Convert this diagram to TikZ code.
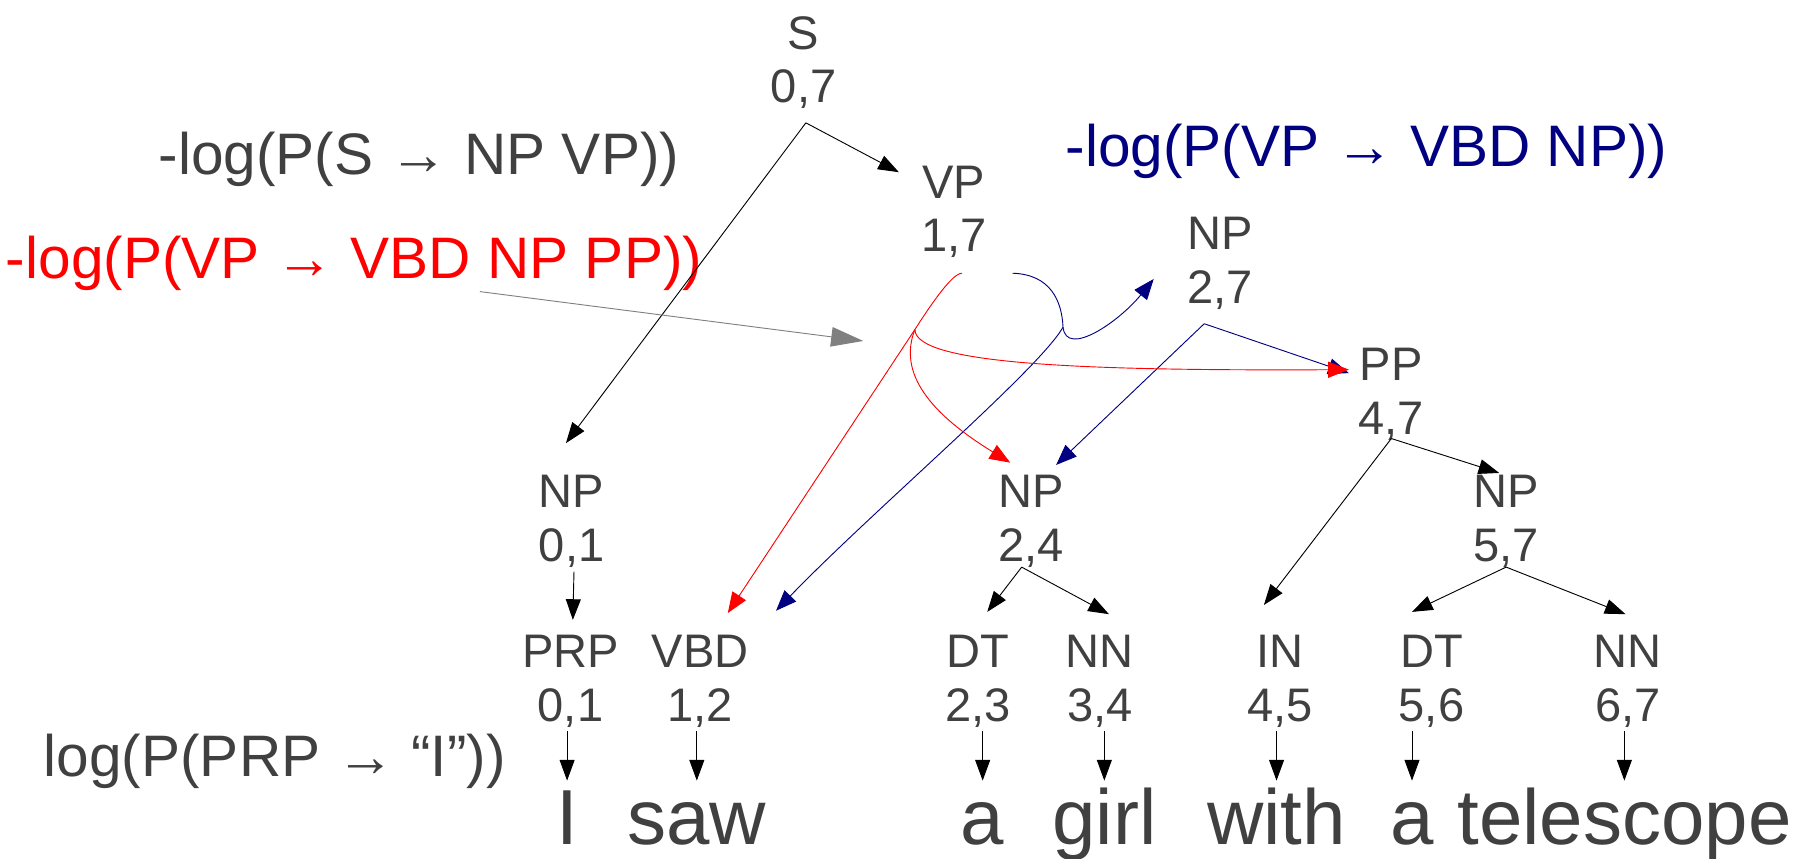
\documentclass[tikz,border=0pt]{standalone}
\usepackage{fontspec}
\setmainfont{Liberation Sans}
\usetikzlibrary{arrows.meta,calc}
\definecolor{txt}{HTML}{404040}
\definecolor{navy}{HTML}{000080}
\definecolor{grayarr}{HTML}{808080}
\begin{document}
\begin{tikzpicture}[x=1pt,y=-1pt,
  tn/.style={font=\fontsize{41}{47}\selectfont, text=txt, align=center, inner sep=0pt},
  word/.style={font=\fontsize{68}{80}\selectfont, text=txt, anchor=base, inner sep=0pt},
  lbl/.style={font=\fontsize{51}{60}\selectfont, anchor=base west, inner sep=0pt},
  arr/.style={-{Triangle[length=18pt,width=13pt]}, line width=0.8pt, black},
  redarr/.style={-{Triangle[length=18pt,width=14pt]}, line width=0.8pt, red},
  navyarr/.style={-{Triangle[length=18pt,width=14pt]}, line width=0.8pt, navy},
  grayarrow/.style={-{Triangle[length=28pt,width=17pt]}, line width=0.8pt, grayarr}]
\useasboundingbox (0,0) rectangle (1568,748);

% tree nodes
\node[tn] (S)    at (700,54.5)  {S\\0,7};
\node[tn] (VP)   at (831,184.5) {VP\\1,7};
\node[tn] (NPb)  at (1063,229.5){NP\\2,7};
\node[tn] (PP)   at (1212,343.5){PP\\4,7};
\node[tn] (NPa)  at (498,454.5) {NP\\0,1};
\node[tn] (NPc)  at (898,454.5) {NP\\2,4};
\node[tn] (NPd)  at (1312,454.5){NP\\5,7};
\node[tn] (PRP)  at (497,593.5) {PRP\\0,1};
\node[tn] (VBD)  at (610,593.5) {VBD\\1,2};
\node[tn] (DTa)  at (852,593.5) {DT\\2,3};
\node[tn] (NNa)  at (958,593.5) {NN\\3,4};
\node[tn] (IN)   at (1115,593.5){IN\\4,5};
\node[tn] (DTb)  at (1247,593.5){DT\\5,6};
\node[tn] (NNb)  at (1418,593.5){NN\\6,7};

% words
\node[word] (wI)    at (494,736)  {I};
\node[word] (wsaw)  at (607,736)  {saw};
\node[word] (wa)    at (856,736)  {a};
\node[word] (wgirl) at (962,736)  {girl};
\node[word] (wwith) at (1112,736) {with};
\node[word] (wa2)   at (1230,736) {a};
\node[word] (wtel)  at (1415,736) {telescope};

% labels
\node[lbl,text=txt]  (l1) at (138,152) {-log(P(S → NP VP))};
\node[lbl,text=red]  (l2) at (5,243)   {-log(P(VP → VBD NP PP))};
\node[lbl,text=navy] (l3) at (928,145) {-log(P(VP → VBD NP))};
\node[lbl,text=txt]  (l4) at (38,676)  {log(P(PRP → “I”))};

% black tree arrows
\draw[arr] ([shift={(2,52.5)}]S.center) -- ([shift={(-5,-68.5)}]NPa.center);
\draw[arr] ([shift={(2,52.5)}]S.center) -- ([shift={(-48,-34.5)}]VP.center);
\draw[arr] ([shift={(2,43.5)}]NPa.center) -- ([shift={(2,-53.5)}]PRP.center);
\draw[arr] ([shift={(-8,39.5)}]NPc.center) -- ([shift={(8,-60.5)}]DTa.center);
\draw[arr] ([shift={(-8,39.5)}]NPc.center) -- ([shift={(8,-58.5)}]NNa.center);
\draw[arr] ([shift={(0,38.5)}]PP.center) -- ([shift={(-14,-66.5)}]IN.center);
\draw[arr] ([shift={(0,38.5)}]PP.center) -- ([shift={(-6,-42.5)}]NPd.center);
\draw[arr] ([shift={(0,39.5)}]NPd.center) -- ([shift={(-17,-60.5)}]DTb.center);
\draw[arr] ([shift={(0,39.5)}]NPd.center) -- ([shift={(-2,-58.5)}]NNb.center);

% leaf to word arrows
\foreach \l/\w in {PRP/wI, VBD/wsaw, DTa/wa, NNa/wgirl, IN/wwith, DTb/wa2, NNb/wtel}{
  \draw[arr] ($(\w.base |- \l.center)+(0,43.5)$) -- ($(\w.base)+(0,-56)$);
}

% navy rule VP -> VBD NP
\draw[navyarr] ([shift={(-14,52.5)}]NPb.center) -- ([shift={(22,-49.5)}]NPc.center);
\draw[navyarr] ([shift={(-14,52.5)}]NPb.center) -- ([shift={(-37,-18.5)}]PP.center);
\draw[navy, line width=0.8pt] ([shift={(51,53.5)}]VP.center) .. controls (915,239) and (925,262) .. (926,285) coordinate (NJ);
\draw[navyarr] (NJ) .. controls (929,312) and (975,280) .. ([shift={(-58,13.5)}]NPb.center);
\draw[navyarr] (NJ) .. controls (905,322) and (760,445) .. ([shift={(66,-61.5)}]VBD.center);

% red rule VP -> VBD NP PP
\draw[red, line width=0.8pt] ([shift={(7,53.5)}]VP.center) .. controls (830,238) and (813,262) .. (797,287) coordinate (RJ);
\draw[redarr] (RJ) -- ([shift={(24,-59.5)}]VBD.center);
\draw[redarr] (RJ) .. controls (782,325) and (810,360) .. ([shift={(-18,-51.5)}]NPc.center);
\draw[redarr] (RJ) .. controls (797,318) and (950,323) .. ([shift={(-37,-21.5)}]PP.center);

% gray pointer
\coordinate (g1) at (418,254);
\coordinate (g2) at (752,297);
\draw[grayarrow] (g1) -- (g2);
\end{tikzpicture}
\end{document}
